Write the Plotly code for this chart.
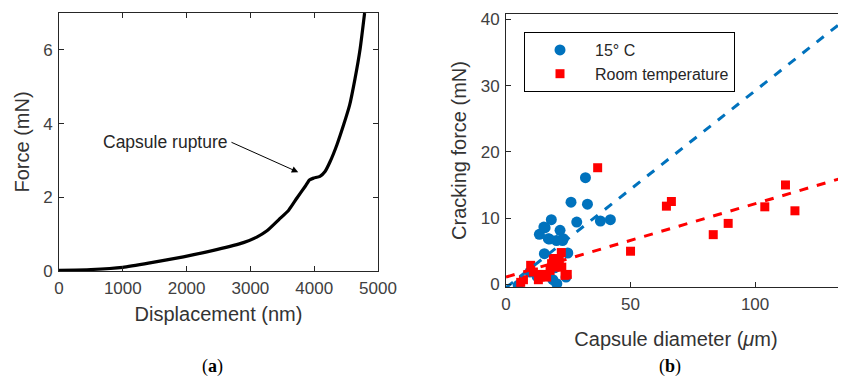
import plotly.graph_objects as go

# ---------------- Panel (a) data ----------------
disp_nm = [0, 500, 1000, 1425, 1950, 2470, 2890, 3100, 3260, 3450, 3600, 3730, 3860, 3925,
           3990, 4090, 4170, 4250, 4355, 4460, 4555, 4640, 4720, 4790]
force_mN = [0.02, 0.04, 0.1, 0.22, 0.385, 0.58, 0.77, 0.92, 1.09, 1.4, 1.65, 1.98, 2.3, 2.47,
            2.52, 2.57, 2.7, 2.97, 3.42, 3.96, 4.5, 5.22, 6.03, 7.0]
ann_text = "Capsule rupture"
ann_tail = (2680, 3.51)
ann_head = (3750, 2.68)

# ---------------- Panel (b) data ----------------
blue_d = [31.9, 26.1, 32.7, 28.4, 37.9, 41.9, 18.2, 15.7, 13.4, 17.4, 21.7, 23.0, 15.4,
          24.8, 18.8, 24.1, 20.4, 4.9, 9.6, 20.3, 22.7, 17.0, 15.2, 19.5, 21.0, 12.5]
blue_f = [16.1, 12.4, 12.1, 9.4, 9.56, 9.76, 9.76, 8.55, 7.55, 6.84, 8.15, 6.9, 4.63,
          4.73, 0.7, 1.1, 0.1, -0.15, 1.86, 6.6, 6.6, 6.9, 8.65, 2.5, 3.0, 1.2]
red_d = [36.8, 64.4, 66.4, 50.0, 83.2, 89.2, 103.9, 112.2, 116.0, 22.2, 9.9, 11.0, 7.0,
         5.9, 13.7, 18.3, 19.7, 17.7, 22.4, 23.7, 24.6, 16.3, 21.4, 19.0, 13.0, 14.3]
red_f = [17.6, 11.8, 12.5, 5.0, 7.5, 9.2, 11.7, 15.0, 11.1, 4.8, 2.87, 1.86, 0.7,
         0.3, 1.1, 3.12, 2.6, 2.1, 2.6, 1.36, 1.5, 1.1, 3.6, 3.9, 0.7, 1.5]
fit_x = [0, 140]
blue_fit = [-0.5, 41.1]
red_fit = [1.1, 16.6]

BLUE = "#0072BD"
RED = "#FF0000"
AX = "#262626"
FONT = "Liberation Sans, Arial, sans-serif"

fig = go.Figure()

fig.add_trace(go.Scatter(x=disp_nm, y=force_mN, mode="lines",
                         line=dict(color="black", width=3.2, shape="spline", smoothing=0.5),
                         showlegend=False, xaxis="x", yaxis="y"))

fig.add_trace(go.Scatter(x=blue_d, y=blue_f, mode="markers", name="15° C",
                         marker=dict(symbol="circle", size=11, color=BLUE), xaxis="x2", yaxis="y2"))
fig.add_trace(go.Scatter(x=red_d, y=red_f, mode="markers", name="Room temperature",
                         marker=dict(symbol="square", size=9, color=RED), xaxis="x2", yaxis="y2"))
fig.add_trace(go.Scatter(x=fit_x, y=blue_fit, mode="lines", showlegend=False,
                         line=dict(color=BLUE, width=3, dash="dash"), xaxis="x2", yaxis="y2"))
fig.add_trace(go.Scatter(x=fit_x, y=red_fit, mode="lines", showlegend=False,
                         line=dict(color=RED, width=3, dash="dash"), xaxis="x2", yaxis="y2"))

# the page body adds an 8px offset; figure is sized to fit the 846x379 window
OFF = 8
W, H = 846 - OFF, 379 - OFF
def px(x):
    return (x - OFF) / W
def py(y):
    return 1 - (y - OFF) / H

axcommon = dict(showgrid=False, zeroline=False, showline=True, linecolor=AX, linewidth=1,
                ticks="inside", ticklen=5, tickcolor=AX, automargin=False, ticklabelstandoff=2,
                tickfont=dict(family=FONT, size=17, color="#404040"))
TF = dict(family=FONT, size=20, color="#333333")

fig.update_layout(
    width=W, height=H, margin=dict(l=0, r=0, t=0, b=0, autoexpand=False),
    paper_bgcolor="white", plot_bgcolor="white",
    font=dict(family=FONT, color="#262626"),
    xaxis=dict(domain=[px(59), px(378)], range=[0, 5000], tickvals=[0, 1000, 2000, 3000, 4000, 5000],
               mirror="ticks", anchor="y",
               title=dict(text="Displacement (nm)", font=TF, standoff=9),
               **axcommon),
    yaxis=dict(domain=[py(271), py(13)], range=[0, 7], tickvals=[0, 2, 4, 6], mirror="ticks", anchor="x",
               title=dict(text="Force (mN)", font=TF, standoff=8),
               **axcommon),
    xaxis2=dict(domain=[px(506), 1.0], range=[0, 136.5], tickvals=[0, 50, 100], mirror=True, anchor="y2",
                title=dict(text="Capsule diameter (<i>μ</i>m)", font=TF, standoff=18),
                **axcommon),
    yaxis2=dict(domain=[py(287), py(14)], range=[-0.4, 40.8], tickvals=[0, 10, 20, 30, 40], anchor="x2",
                title=dict(text="Cracking force (mN)", font=TF, standoff=8),
                **axcommon),
    legend=dict(x=px(524), y=py(32), xanchor="left", yanchor="top",
                bordercolor="black", borderwidth=1, bgcolor="white",
                font=dict(family=FONT, size=16, color="#262626"), itemwidth=60),
    showlegend=True,
)

fig.add_annotation(x=ann_head[0], y=ann_head[1], ax=ann_tail[0], ay=ann_tail[1],
                   xref="x", yref="y", axref="x", ayref="y", text="", showarrow=True,
                   arrowhead=2, arrowsize=1.3, arrowwidth=1, arrowcolor="black")
fig.add_annotation(x=ann_tail[0], y=ann_tail[1], xref="x", yref="y", text=ann_text,
                   showarrow=False, xanchor="right", yanchor="middle",
                   font=dict(family=FONT, size=17.5, color="#262626"))

SERIF = dict(family="Liberation Serif, Times New Roman, serif", size=18, color="black")
fig.add_annotation(x=px(212), y=py(366), xref="paper", yref="paper", text="(<b>a</b>)",
                   xanchor="center", yanchor="middle", showarrow=False, font=SERIF)
fig.add_annotation(x=px(670), y=py(366), xref="paper", yref="paper", text="(<b>b</b>)",
                   xanchor="center", yanchor="middle", showarrow=False, font=SERIF)

fig.write_html("out.html")
